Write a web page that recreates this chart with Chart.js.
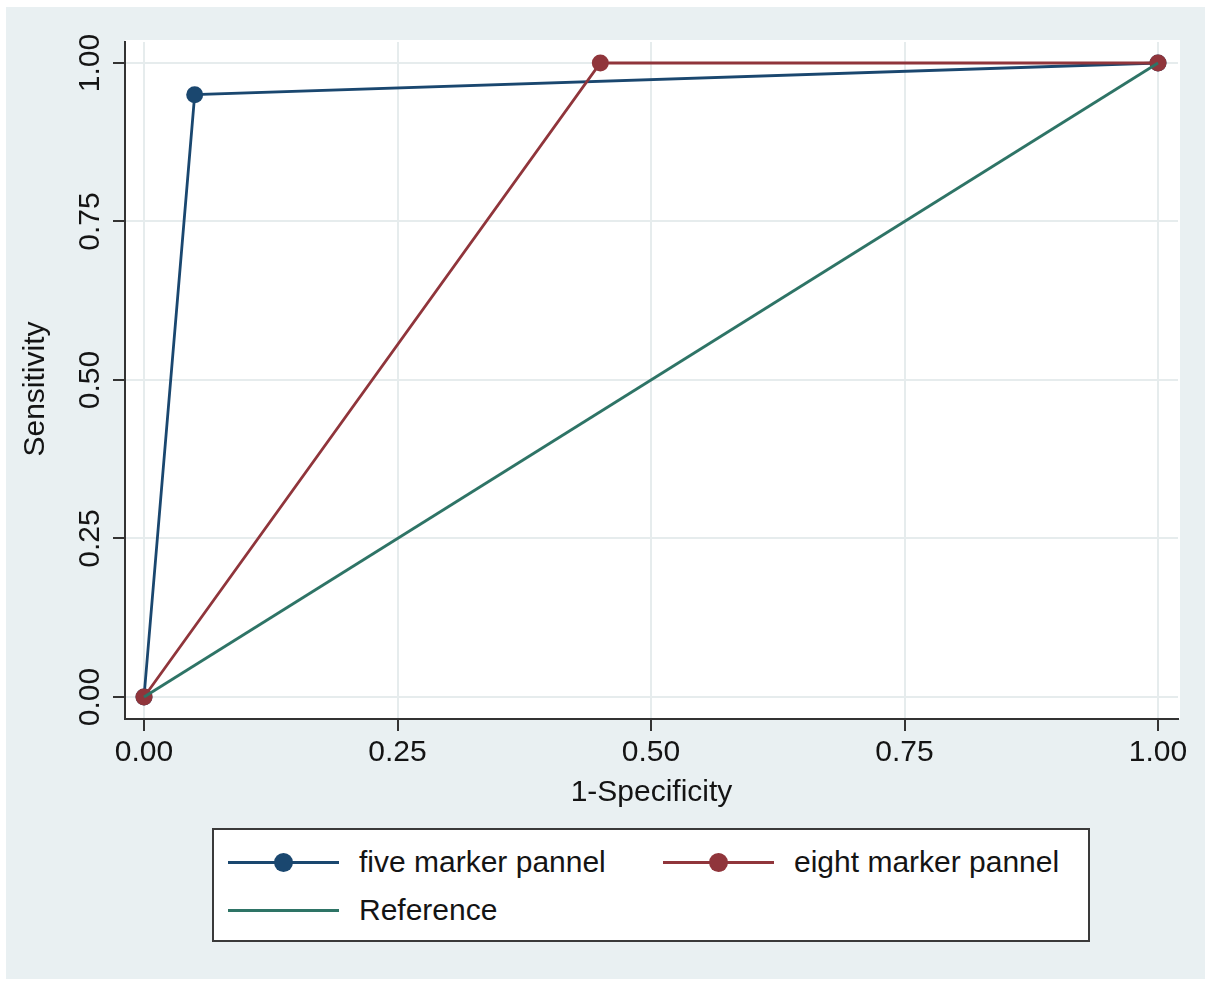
<!DOCTYPE html>
<html>
<head>
<meta charset="utf-8">
<script src="https://cdn.jsdelivr.net/npm/chart.js@4/dist/chart.umd.min.js"></script>
<style>
  html, body { margin: 0; padding: 0; background: #ffffff; }
  body { width: 1205px; height: 983px; position: relative; overflow: hidden;
         font-family: "Liberation Sans", Arial, sans-serif; }
  #frame { position: absolute; left: 6px; top: 7px; right: 0; bottom: 4px; background: #e9f0f2; }
  #chart { position: absolute; left: 0; top: 0; }
  #legend { position: absolute; left: 212px; top: 828px; width: 874px; height: 110px;
            border: 2px solid #3a3a3a; background: #ffffff; }
  .item { position: absolute; height: 40px; }
  .sample { position: absolute; left: 0; top: 19px; width: 111px; height: 3px; }
  .dot { position: absolute; left: 46px; top: 11px; width: 19px; height: 19px; border-radius: 50%; }
  .label { position: absolute; left: 131px; top: 0; line-height: 40px; font-size: 30px;
           color: #141414; white-space: nowrap; }
</style>
</head>
<body>
<div id="frame"></div>
<canvas id="chart" width="1205" height="983"></canvas>
<div id="legend"></div>
<script>
// ROC points: 1-specificity (x) against sensitivity (y)
const xTicks = [0, 0.25, 0.5, 0.75, 1];
const yTicks = [0, 0.25, 0.5, 0.75, 1];

const fiveX  = [0, 0.05, 1];
const fiveY  = [0, 0.95, 1];
const eightX = [0, 0.45, 1];
const eightY = [0, 1, 1];
const refX   = [0, 1];
const refY   = [0, 1];

const seriesNames = ['five marker pannel', 'eight marker pannel', 'Reference'];
const seriesColors = ['#1a476f', '#90353b', '#2e7466'];

const toPoints = (xs, ys) => xs.map((x, i) => ({ x: x, y: ys[i] }));

const FONT = '"Liberation Sans", Arial, sans-serif';
const TEXT = '#141414';
const AXIS = '#333333';
const GRID = '#e6eced';

// white plot region behind the grid, rotated y tick labels and y title
const plotDecor = {
  id: 'plotDecor',
  beforeDraw(chart) {
    const { ctx, chartArea: a } = chart;
    ctx.save();
    ctx.fillStyle = '#ffffff';
    ctx.fillRect(a.left, a.top - 2, a.right - a.left + 2, a.bottom - a.top + 2);
    ctx.restore();
  },
  afterDraw(chart) {
    const { ctx, scales } = chart;
    const y = scales.y;
    ctx.save();
    ctx.fillStyle = TEXT;
    ctx.font = '30px ' + FONT;
    ctx.textAlign = 'center';
    ctx.textBaseline = 'alphabetic';
    y.ticks.forEach(t => {
      const py = y.getPixelForValue(t.value);
      ctx.save();
      ctx.translate(99, py);
      ctx.rotate(-Math.PI / 2);
      ctx.fillText(t.value.toFixed(2), 0, 0);
      ctx.restore();
    });
    ctx.save();
    ctx.translate(44, 389);
    ctx.rotate(-Math.PI / 2);
    ctx.fillText('Sensitivity', 0, 0);
    ctx.restore();
    ctx.restore();
  }
};

const chart = new Chart(document.getElementById('chart'), {
  type: 'scatter',
  data: {
    datasets: [
      { label: seriesNames[0], data: toPoints(fiveX, fiveY), order: 2,
        borderColor: seriesColors[0], backgroundColor: seriesColors[0],
        showLine: true, borderWidth: 2.8, pointRadius: 8.5, pointHoverRadius: 8.5, pointBorderWidth: 0 },
      { label: seriesNames[1], data: toPoints(eightX, eightY), order: 1,
        borderColor: seriesColors[1], backgroundColor: seriesColors[1],
        showLine: true, borderWidth: 2.8, pointRadius: 8.5, pointHoverRadius: 8.5, pointBorderWidth: 0 },
      { label: seriesNames[2], data: toPoints(refX, refY), order: 0,
        borderColor: seriesColors[2], backgroundColor: seriesColors[2],
        showLine: true, borderWidth: 2.8, pointRadius: 0, pointHoverRadius: 0 }
    ]
  },
  options: {
    responsive: false,
    animation: false,
    events: [],
    layout: { padding: { left: 0, top: 42, right: 27, bottom: 172 } },
    plugins: { legend: { display: false }, tooltip: { enabled: false } },
    scales: {
      x: {
        type: 'linear',
        min: -0.01874,
        max: 1.0197,
        afterBuildTicks: s => { s.ticks = xTicks.map(v => ({ value: v })); },
        afterFit: s => { s.height = 92; },
        ticks: {
          callback: v => Number(v).toFixed(2),
          font: { size: 30, family: FONT },
          color: TEXT,
          padding: 4,
          maxRotation: 0
        },
        grid: { color: GRID, lineWidth: 2, tickLength: 12, tickColor: AXIS, tickWidth: 2 },
        border: { color: AXIS, width: 2 },
        title: { display: true, text: '1-Specificity', color: TEXT,
                 font: { size: 30, family: FONT }, padding: 0 }
      },
      y: {
        type: 'linear',
        min: -0.0347,
        max: 1.0331,
        afterBuildTicks: s => { s.ticks = yTicks.map(v => ({ value: v })); },
        afterFit: s => { s.width = 125; },
        ticks: { display: false },
        grid: { color: GRID, lineWidth: 2, tickLength: 12, tickColor: AXIS, tickWidth: 2 },
        border: { color: AXIS, width: 2 }
      }
    }
  },
  plugins: [plotDecor]
});

// legend box built from the datasets
const legend = document.getElementById('legend');
const slots = [{ x: 14, y: 12 }, { x: 449, y: 12 }, { x: 14, y: 60 }];
chart.data.datasets.forEach((ds, i) => {
  const item = document.createElement('div');
  item.className = 'item';
  item.style.left = slots[i].x + 'px';
  item.style.top = slots[i].y + 'px';
  const line = document.createElement('div');
  line.className = 'sample';
  line.style.background = ds.borderColor;
  item.appendChild(line);
  if (ds.pointRadius > 0) {
    const dot = document.createElement('div');
    dot.className = 'dot';
    dot.style.background = ds.backgroundColor;
    item.appendChild(dot);
  }
  const lab = document.createElement('div');
  lab.className = 'label';
  lab.textContent = ds.label;
  item.appendChild(lab);
  legend.appendChild(item);
});
</script>
</body>
</html>
